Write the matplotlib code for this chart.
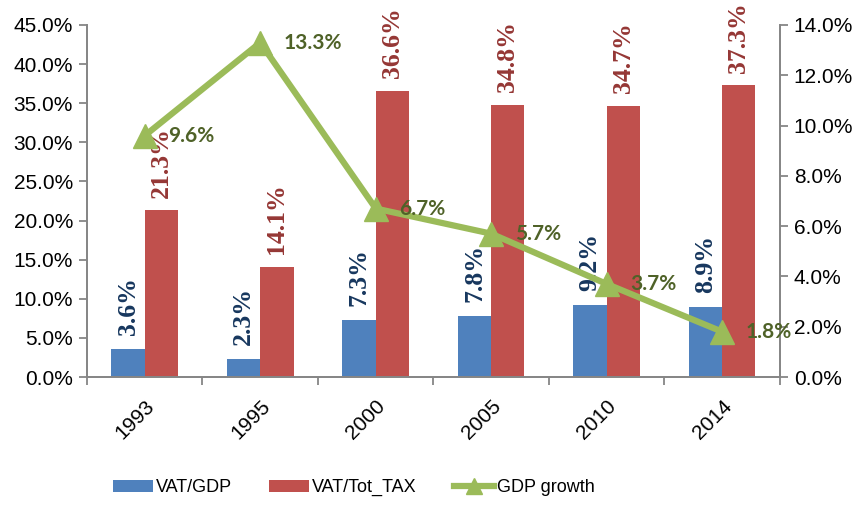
import numpy as np
import matplotlib
matplotlib.use("Agg")
import matplotlib.pyplot as plt
from matplotlib.lines import Line2D
from matplotlib.ticker import FuncFormatter, FixedLocator

years = ['1993', '1995', '2000', '2005', '2010', '2014']
vat_gdp = [3.6, 2.3, 7.3, 7.8, 9.2, 8.9]
vat_tax = [21.3, 14.1, 36.6, 34.8, 34.7, 37.3]
gdp_growth = [9.6, 13.3, 6.7, 5.7, 3.7, 1.8]

blue = '#4F81BD'
red = '#C0504D'
green = '#9BBB59'
grey = '#868686'

fig = plt.figure(figsize=(8.63, 5.07), dpi=100)
ax = fig.add_axes([0.1008, 0.2564, 0.8030, 0.6943])
ax2 = ax.twinx()

x = np.arange(len(years))
w = 0.288
b1 = ax.bar(x - w / 2, vat_gdp, w, color=blue, label='VAT/GDP', zorder=2)
b2 = ax.bar(x + w / 2, vat_tax, w, color=red, label='VAT/Tot_TAX', zorder=2)

for xi, v in zip(x, vat_gdp):
    ax.annotate(f'{v:.1f}%', (xi - w / 2, v), xytext=(0, 10), textcoords='offset points',
                rotation=90, ha='center', va='bottom', fontsize=18.5, fontweight='bold',
                family='Liberation Serif', color='#17375E')
for xi, v in zip(x, vat_tax):
    ax.annotate(f'{v:.1f}%', (xi + w / 2, v), xytext=(0, 9), textcoords='offset points',
                rotation=90, ha='center', va='bottom', fontsize=18.5, fontweight='bold',
                family='Liberation Serif', color='#953735')

ln, = ax2.plot(x, gdp_growth, color=green, lw=4.5, marker='^', markersize=17,
               label='GDP growth', zorder=5)
for xi, v in zip(x, gdp_growth):
    ax2.annotate(f'{v:.1f}%', (xi, v), xytext=(17, 0), textcoords='offset points',
                 ha='left', va='center', fontsize=15, fontweight='bold',
                 family='Lato', color='#4F6228', zorder=6)

ax.set_xlim(-0.5, len(years) - 0.5)
ax.set_ylim(0, 45)
ax2.set_ylim(0, 14)
ax.set_yticks(np.arange(0, 46, 5))
ax2.set_yticks(np.arange(0, 15, 2))
ax.yaxis.set_major_formatter(FuncFormatter(lambda v, p: f'{v:.1f}%'))
ax2.yaxis.set_major_formatter(FuncFormatter(lambda v, p: f'{v:.1f}%'))

ax.set_xticks(x)
ax.set_xticklabels(years, rotation=45, ha='right', rotation_mode='anchor')
ax.xaxis.set_minor_locator(FixedLocator(np.arange(-0.5, len(years), 1)))
ax.tick_params(axis='x', which='major', length=0, pad=14, labelsize=15)
ax.tick_params(axis='x', which='minor', length=6, color=grey, width=1.3)
ax.tick_params(axis='y', length=6, color=grey, width=1.3, labelsize=15, pad=4)
ax2.tick_params(axis='y', length=6, color=grey, width=1.3, labelsize=15, pad=4)

for a in (ax, ax2):
    for s in a.spines.values():
        s.set_color(grey)
        s.set_linewidth(1.3)
    a.spines['top'].set_visible(False)
for lab in ax.get_xticklabels() + ax.get_yticklabels() + ax2.get_yticklabels():
    lab.set_family('Liberation Sans')

# smaller marker for the legend entry of the line
ln_leg = Line2D([], [], color=green, lw=4.5, marker='^', markersize=11)
leg = fig.legend([b1, b2, ln_leg], ['VAT/GDP', 'VAT/Tot_TAX', 'GDP growth'],
                 loc='center', bbox_to_anchor=(0.41, 0.038), ncol=3, frameon=False,
                 prop={'family': 'Liberation Sans', 'size': 13}, columnspacing=2.1,
                 handlelength=2.2, handletextpad=0.15)

fig.savefig('out.png', dpi=100)
